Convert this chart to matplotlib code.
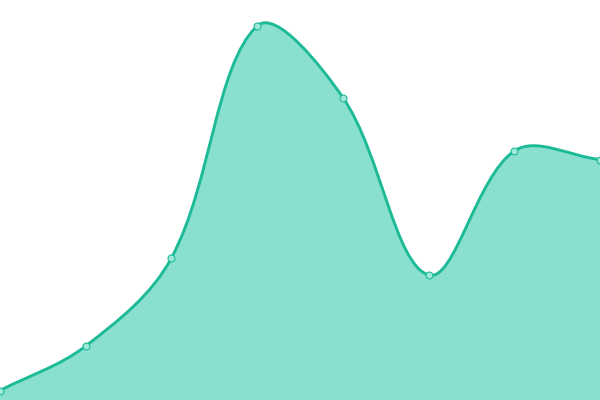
import numpy as np
import matplotlib
matplotlib.use("Agg")
import matplotlib.pyplot as plt
from matplotlib.path import Path
from matplotlib.patches import PathPatch

# data
x_vals = [0, 1, 2, 3, 4, 5, 6, 7]
y_vals = [9.5, 54, 142, 374, 302.5, 125, 249, 240.5]

LINE = "#1dba98"
FILL = "#8ae0cf"

fig = plt.figure(figsize=(6, 4), dpi=100)
ax = fig.add_axes([0, 0, 1, 1])
ax.set_xlim(0, 7)
ax.set_ylim(0, 400)
ax.axis("off")

# smooth bezier like echarts, computed in pixel space
sx = 600 / 7.0
sy = 400 / 400.0
pts = np.column_stack([np.array(x_vals) * sx, np.array(y_vals) * sy])
n = len(pts)
smooth = 0.35
cps = []
for i in range(n):
    p = pts[i]
    prev = pts[i - 1] if i > 0 else p
    nxt = pts[i + 1] if i < n - 1 else p
    v = nxt - prev
    d0 = np.hypot(*(p - prev))
    d1 = np.hypot(*(p - nxt))
    tot = d0 + d1
    if tot == 0:
        cps.append((p, p))
        continue
    c0 = p - v * smooth * d0 / tot
    c1 = p + v * smooth * d1 / tot
    cps.append((c0, c1))

verts = [pts[0]]
codes = [Path.MOVETO]
for i in range(n - 1):
    verts += [cps[i][1], cps[i + 1][0], pts[i + 1]]
    codes += [Path.CURVE4] * 3
verts = np.array(verts) / np.array([sx, sy])

line_path = Path(verts, codes)
area_verts = np.vstack([verts, [[x_vals[-1], 0], [x_vals[0], 0], verts[0]]])
area_codes = codes + [Path.LINETO, Path.LINETO, Path.CLOSEPOLY]
area_path = Path(area_verts, area_codes)

ax.add_patch(PathPatch(area_path, facecolor=FILL, edgecolor="none", zorder=1))
ax.add_patch(PathPatch(line_path, facecolor="none", edgecolor=LINE, lw=2.1, zorder=2))
ax.plot(x_vals, y_vals, "o", ms=5.0, mfc="#9fe7d8", mec=LINE, mew=0.8, zorder=3)

fig.savefig("out.png", dpi=100)
